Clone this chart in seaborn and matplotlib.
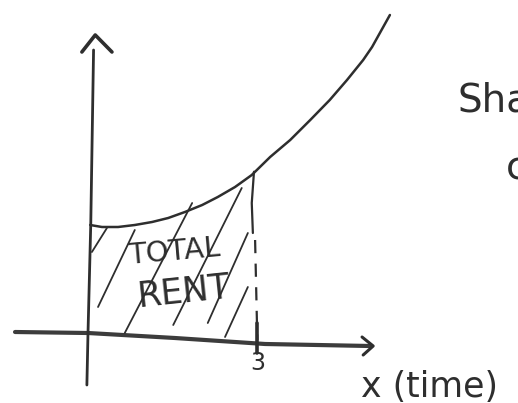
import numpy as np
import pandas as pd
import matplotlib
matplotlib.use("Agg")
import matplotlib.pyplot as plt
import seaborn as sns

# ---- data (x in "time" units, y in rent units) ----
curve_x = [0.04, 0.25, 0.54, 0.84, 1.15, 1.44, 1.74, 2.05, 2.33, 2.64, 2.94,
           3.27, 3.63, 3.99, 4.34, 4.65, 4.94, 5.10, 5.24, 5.42]
curve_y = [2.16, 2.12, 2.12, 2.16, 2.22, 2.30, 2.42, 2.56, 2.72, 2.92, 3.16,
           3.52, 3.86, 4.26, 4.66, 5.06, 5.46, 5.72, 6.00, 6.36]

x_end = 3            # upper limit of the shaded area
x_end_label = "3"

# hatch strokes (start x, start y, end x, end y)
hatch_x0 = [0.07, 0.18, 0.66, 1.53, 2.15, 2.46]
hatch_y0 = [1.62, 0.52, 0.00, 0.16, 0.20, -0.08]
hatch_x1 = [0.34, 0.84, 1.87, 2.76, 2.87, 2.87]
hatch_y1 = [2.10, 2.06, 2.60, 2.90, 2.00, 0.92]

# hand-drawn axes
xaxis_x = [-1.31, 0.00, 1.56, 3.18, 5.06]
xaxis_y = [0.02, 0.00, -0.10, -0.22, -0.26]
yaxis_x = [-0.02, 0.00, 0.05, 0.10]
yaxis_y = [-1.04, 0.00, 2.20, 5.66]

xarrow_x = [4.92, 5.12, 4.94]
xarrow_y = [-0.08, -0.26, -0.44]
yarrow_x = [-0.11, 0.13, 0.43]
yarrow_y = [5.62, 5.96, 5.62]

area_label_1 = "TOTAL"
area_label_2 = "RENT"
x_label = "x (time)"
note_line_1 = "Shaded"
note_line_2 = "c"

# ---- drawing ----
sns.set_theme(style="white")
plt.rcParams["font.family"] = ["DejaVu Sans"]
plt.rcParams["lines.scale_dashes"] = False

ink = "#2e2e2e"
fig = plt.figure(figsize=(5.18, 4.03), dpi=100)
ax = fig.add_axes([0, 0, 1, 1])
ax.set_xlim(-88 / 55.7, (518 - 88) / 55.7)
ax.set_ylim((333 - 403) / 50, 333 / 50)
ax.axis("off")

# axes
sns.lineplot(x=xaxis_x, y=xaxis_y, ax=ax, color="#3c3c3c", linewidth=3.0, sort=False)
sns.lineplot(x=yaxis_x, y=yaxis_y, ax=ax, color=ink, linewidth=2.0, sort=False)
ax.plot(xarrow_x, xarrow_y, color=ink, linewidth=2.2, solid_capstyle="round", solid_joinstyle="round")
ax.plot(yarrow_x, yarrow_y, color=ink, linewidth=2.6, solid_capstyle="round", solid_joinstyle="round")

# rent curve
sns.lineplot(x=curve_x, y=curve_y, ax=ax, color=ink, linewidth=1.8)

# vertical boundary at x = 3
y_top = float(np.interp(x_end, curve_x, curve_y))
ax.plot([x_end - 0.02, x_end - 0.06, x_end - 0.04], [y_top, 2.6, 2.0], color=ink, linewidth=1.6)
ax.plot([x_end + 0.0, x_end + 0.04], [1.86, -0.14], color=ink, linewidth=1.6, dashes=(9.5, 7.5))
ax.plot([x_end + 0.04, x_end + 0.04], [0.2, -0.4], color=ink, linewidth=2.6)

# hatch strokes
for a, b, c, d in zip(hatch_x0, hatch_y0, hatch_x1, hatch_y1):
    ax.plot([a, c], [b, d], color=ink, linewidth=1.3, solid_capstyle="round")

# texts
ax.text(1.55, 1.62, area_label_1, fontsize=21, color=ink, ha="center", va="center", rotation=5)
ax.text(1.72, 0.82, area_label_2, fontsize=25, color=ink, ha="center", va="center", rotation=6)
ax.text(x_end + 0.05, -0.6, x_end_label, fontsize=17, color=ink, ha="center", va="center")
ax.text(6.14, -1.08, x_label, fontsize=25, color=ink, ha="center", va="center")
ax.text(6.64, 4.42, note_line_1, fontsize=28, color=ink, ha="left", va="baseline")
ax.text(7.5, 3.06, note_line_2, fontsize=28, color=ink, ha="left", va="baseline")

fig.savefig("out.png", dpi=100)
